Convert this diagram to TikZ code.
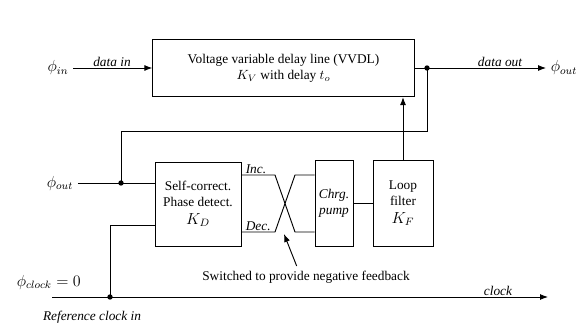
\documentclass[tikz,border=0pt]{standalone}
\usepackage{fontspec}
\setmainfont{Liberation Serif}
\usepackage{tikz}
\usetikzlibrary{arrows.meta, positioning}

\begin{document}
\begin{tikzpicture}[
    x=0.75pt, y=-0.75pt,
    line width=0.7pt,
    block/.style={rectangle, draw, inner sep=1pt, align=center},
    arrow/.style={-{Latex[length=6pt, width=4.5pt]}},
    dot/.style={circle, fill, inner sep=0pt, minimum size=4pt},
    lbl/.style={font=\itshape},
]
\useasboundingbox (0,0) rectangle (579,328);

% blocks
\node[block, minimum width=196pt, minimum height=43pt] (vvdl) at (283.5,68)
  {Voltage variable delay line (VVDL)\\ $K_V$ with delay $t_o$};
\node[block, minimum width=64.5pt, minimum height=63pt] (pd) at (198,204)
  {Self-correct.\\ Phase detect.\\[1pt] {\large $K_D$}};
\node[block, minimum width=28.5pt, minimum height=65pt, font=\itshape] (pump) at (334,203.5)
  {Chrg.\\ pump};
\node[block, minimum width=45pt, minimum height=65pt] (filter) at (403,203.5)
  {Loop\\ filter\\[1pt] {\large $K_F$}};

% terminals
\node (phiin) at (58,68) {\large$\phi_{in}$};
\node (phiout) at (564,68) {\large$\phi_{out}$};
\node (phifb) at (60,183) {\large$\phi_{out}$};
\node[anchor=west] (phiclk) at (12,282) {\large$\phi_{clock}=0$};

% data path
\coordinate (tap) at (427,68);
\draw[arrow] (phiin) -- (phiin -| vvdl.west);
\node[lbl, anchor=south, inner sep=1pt] at (112,68) {data in};
\draw[arrow] (vvdl.east) -- (phiout.west);
\node[lbl, anchor=south, inner sep=1pt] at (500,68) {data out};
\node[dot] at (tap) {};

% feedback
\coordinate (fbdot) at (121,183);
\draw (tap) -- ++(0,63) -| (fbdot);
\draw (phifb) -- (pd.west |- phifb);
\node[dot] at (fbdot) {};

% clock
\coordinate (clkin) at (52,297);
\coordinate (clkend) at (548,297);
\coordinate (clkdot) at (110,297);
\draw[arrow] (clkin) -- (clkend);
\draw (clkdot) |- (pd.west |- 0,225);
\node[dot] at (clkdot) {};
\node[lbl, anchor=south, inner sep=1pt] at (498,297) {clock};
\node[lbl] (refclk) at (92,317) {Reference clock in};

% crossed outputs
\draw (pd.east |- 0,175) -- (275,175) -- (295,232) -- (pump.west |- 0,232);
\draw (pd.east |- 0,232) -- (275,232) -- (295,175) -- (pump.west |- 0,175);
\node[lbl, anchor=south west, inner sep=1pt] at (244,175) {Inc.};
\node[lbl, anchor=south west, inner sep=1pt] at (244,232) {Dec.};
\draw (pump.east) -- (filter.west);
\draw[arrow] (filter.north) -- (filter.north |- vvdl.south);

% note
\node (note) at (306,277) {Switched to provide negative feedback};
\coordinate (cross) at (284,234);
\draw[arrow] ([xshift=-7pt]note.north) -- (cross);
\end{tikzpicture}
\end{document}
